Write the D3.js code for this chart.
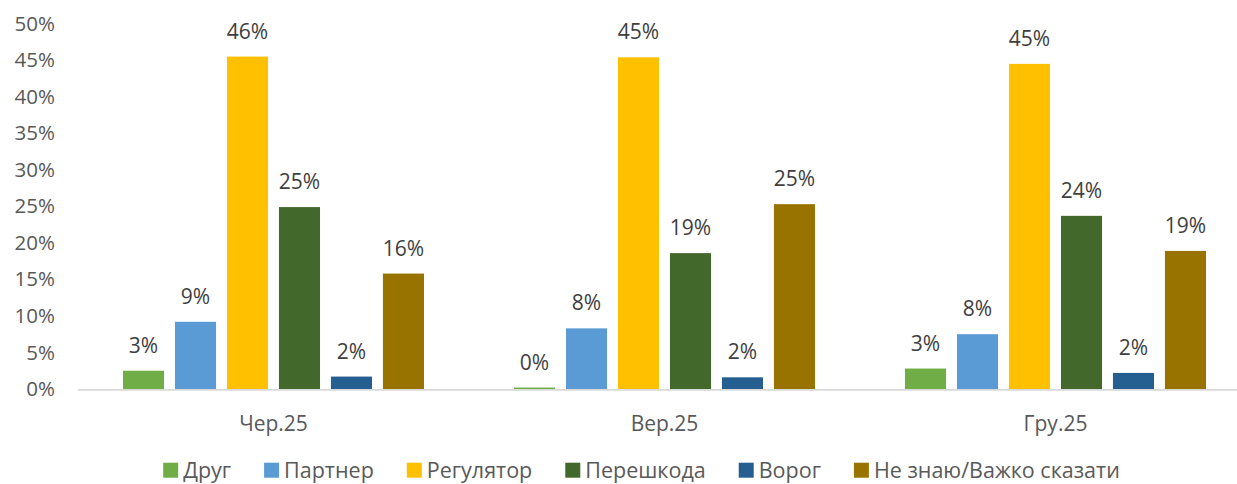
<!DOCTYPE html>
<html>
<head>
<meta charset="utf-8">
<script src="https://cdn.jsdelivr.net/npm/d3@7"></script>
<style>
  html, body { margin: 0; padding: 0; background: #fff; }
  svg { display: block; }
  text { font-family: "Open Sans", "Liberation Sans", sans-serif; }
</style>
</head>
<body>
<svg id="chart" width="1237" height="484"></svg>
<script>
// Survey waves
const categories = ["Чер.25", "Вер.25", "Гру.25"];
// Answer options (legend order)
const seriesNames = ["Друг", "Партнер", "Регулятор", "Перешкода", "Ворог", "Не знаю/Важко сказати"];
const seriesColors = ["#70AD47", "#5B9BD5", "#FFC000", "#43682B", "#255E91", "#997300"];
// Shares in percent, one array per answer option, ordered by wave
const druh = [2.5, 0.2, 2.8];
const partner = [9.2, 8.3, 7.5];
const rehuliator = [45.5, 45.4, 44.5];
const pereshkoda = [24.9, 18.6, 23.7];
const voroh = [1.7, 1.6, 2.2];
const neZnaiu = [15.8, 25.3, 18.9];
const seriesValues = [druh, partner, rehuliator, pereshkoda, voroh, neZnaiu];
const yTicks = [0, 5, 10, 15, 20, 25, 30, 35, 40, 45, 50];

const svg = d3.select("#chart");

const y = d3.scaleLinear().domain([0, 50]).range([389, 23.7]);
const x0 = d3.scaleBand().domain(categories).range([78, 1251]).padding(0);
const x1 = d3.scaleBand().domain(seriesNames)
  .range([45, x0.bandwidth() - 45]).paddingInner(0.21).paddingOuter(0);

// Y axis labels (no axis line, no gridlines)
const yAxis = d3.axisLeft(y).tickValues(yTicks).tickFormat(d => d + "%").tickSize(0).tickPadding(0);
const gy = svg.append("g").attr("transform", "translate(55,0)").call(yAxis);
gy.select(".domain").remove();
gy.selectAll("text")
  .attr("fill", "#595959")
  .style("font-size", "20.5px")
  .style("font-family", "'Open Sans', 'Liberation Sans', sans-serif");

// Bars
const groups = svg.append("g").selectAll("g")
  .data(categories)
  .join("g")
  .attr("transform", d => `translate(${x0(d)},0)`);

groups.selectAll("rect")
  .data((c, ci) => seriesNames.map((s, si) => ({ s, si, v: seriesValues[si][ci] })))
  .join("rect")
  .attr("x", d => x1(d.s))
  .attr("width", x1.bandwidth())
  .attr("y", d => y(d.v))
  .attr("height", d => y(0) - y(d.v))
  .attr("fill", d => seriesColors[d.si]);

// Value labels
groups.selectAll("text.val")
  .data((c, ci) => seriesNames.map((s, si) => ({ s, si, v: seriesValues[si][ci] })))
  .join("text")
  .attr("class", "val")
  .attr("x", d => x1(d.s) + x1.bandwidth() / 2)
  .attr("y", d => y(d.v) - 18)
  .attr("text-anchor", "middle")
  .attr("fill", "#404040")
  .style("font-size", "21px")
  .text(d => Math.round(d.v) + "%");

// Category axis
svg.append("line")
  .attr("x1", 78).attr("x2", 1237)
  .attr("y1", y(0) + 0.8).attr("y2", y(0) + 0.8)
  .attr("stroke", "#D9D9D9").attr("stroke-width", 1.8);

const xAxis = d3.axisBottom(x0).tickSize(0).tickPadding(0);
const gx = svg.append("g").attr("transform", "translate(0,431)").call(xAxis);
gx.select(".domain").remove();
gx.selectAll("text")
  .attr("dy", 0)
  .attr("fill", "#595959")
  .style("font-size", "21px")
  .style("font-family", "'Open Sans', 'Liberation Sans', sans-serif");

// Legend, centred under the plot
const legend = svg.append("g").attr("transform", "translate(0,478)");
const items = legend.selectAll("g").data(seriesNames).join("g");
items.append("rect")
  .attr("y", -15.3).attr("width", 15).attr("height", 15)
  .attr("fill", (d, i) => seriesColors[i]);
items.append("text")
  .attr("x", 20).attr("y", 0)
  .attr("fill", "#595959")
  .style("font-size", "21.5px")
  .text(d => d);
const widths = [];
items.each(function () {
  widths.push(20 + this.querySelector("text").getComputedTextLength());
});
const gap = 33;
const total = d3.sum(widths) + gap * (widths.length - 1);
let cursor = 641.5 - total / 2;
items.attr("transform", (d, i) => {
  const t = `translate(${cursor},0)`;
  cursor += widths[i] + gap;
  return t;
});
</script>
</body>
</html>
